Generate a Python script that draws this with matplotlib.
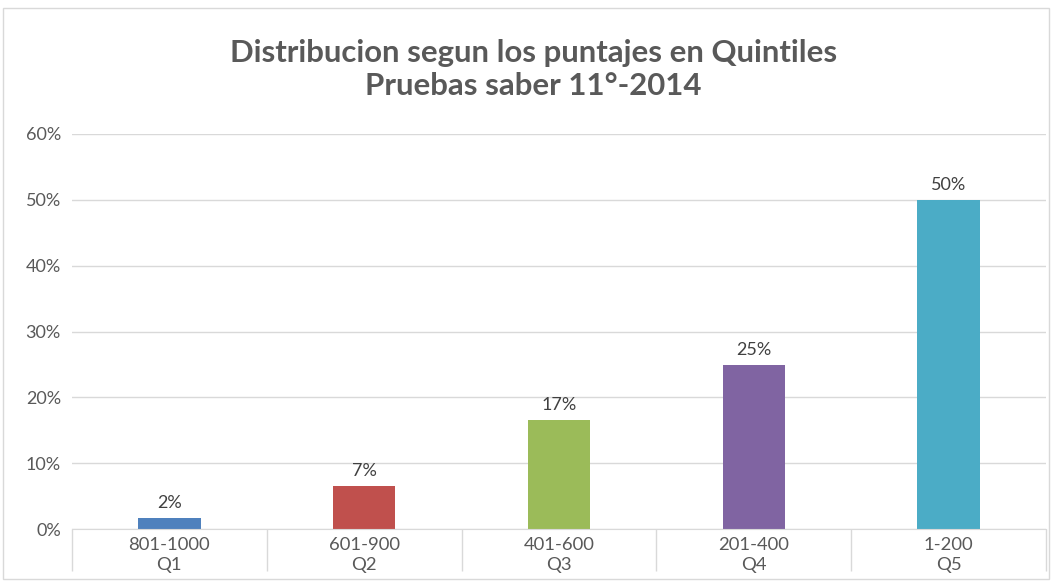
import matplotlib
matplotlib.use("Agg")
import matplotlib.pyplot as plt
from matplotlib.patches import Rectangle
from matplotlib.ticker import FixedLocator, PercentFormatter

ranges = ["801-1000", "601-900", "401-600", "201-400", "1-200"]
quintiles = ["Q1", "Q2", "Q3", "Q4", "Q5"]
values = [0.0167, 0.0655, 0.1656, 0.249, 0.50]
value_labels = ["2%", "7%", "17%", "25%", "50%"]
colors = ["#4F81BD", "#C0504D", "#9BBB59", "#8064A2", "#4BACC6"]
yticks = [0, 0.1, 0.2, 0.3, 0.4, 0.5, 0.6]

plt.rcParams['font.family'] = ['Lato', 'DejaVu Sans']
txt = "#595959"
grid = "#d9d9d9"

fig = plt.figure(figsize=(10.52, 5.82), dpi=100)
fig.patches.append(Rectangle((3/1052, 3/582), 1046/1052, 571/582, transform=fig.transFigure,
                             fill=False, edgecolor=grid, linewidth=1))
ax = fig.add_axes([72/1052, 53/582, 974/1052, 395/582])

x = list(range(len(values)))
bars = ax.bar(x, values, width=0.32, color=colors, zorder=3)
for xi, v, lab in zip(x, values, value_labels):
    ax.annotate(lab, (xi, v), xytext=(0, 5), textcoords="offset points",
                ha="center", va="bottom", fontsize=13, color="#404040")

ax.set_xlim(-0.5, len(values) - 0.5)
ax.set_ylim(0, 0.6)
ax.set_yticks(yticks)
ax.yaxis.set_major_formatter(PercentFormatter(1.0, decimals=0))
ax.yaxis.grid(True, color=grid, linewidth=1, zorder=0)
ax.tick_params(axis="y", length=0, labelsize=13, labelcolor=txt, pad=8)

ax.set_xticks(x)
ax.set_xticklabels([f"{r}\n{q}" for r, q in zip(ranges, quintiles)], linespacing=1.25)
ax.xaxis.set_minor_locator(FixedLocator([i - 0.5 for i in range(len(values) + 1)]))
ax.tick_params(axis="x", which="major", length=0, labelsize=13.3, labelcolor=txt, pad=6)
ax.tick_params(axis="x", which="minor", length=30, color=grid, width=1, direction="out")

for s in ["top", "right", "left"]:
    ax.spines[s].set_visible(False)
ax.spines["bottom"].set_color(grid)
ax.spines["bottom"].set_zorder(4)

fig.text(0.507, 0.880, "Distribucion segun los puntajes en Quintiles\nPruebas saber 11°-2014",
         ha="center", va="center", fontsize=22.4, fontweight="bold", color=txt, linespacing=1.22)

fig.savefig("out.png", dpi=100)
